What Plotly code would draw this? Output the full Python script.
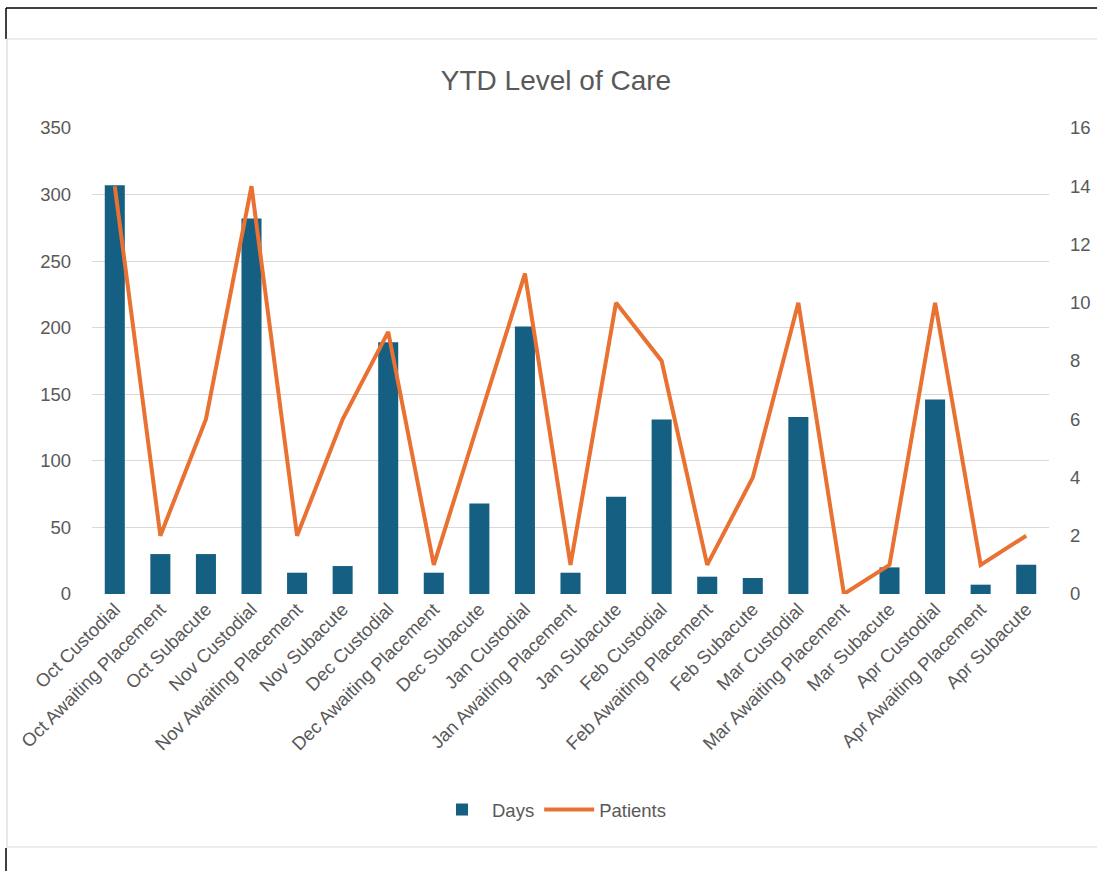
import plotly.graph_objects as go

categories = [
    "Oct Custodial", "Oct Awaiting Placement", "Oct Subacute",
    "Nov Custodial", "Nov Awaiting Placement", "Nov Subacute",
    "Dec Custodial", "Dec Awaiting Placement", "Dec Subacute",
    "Jan Custodial", "Jan Awaiting Placement", "Jan Subacute",
    "Feb Custodial", "Feb Awaiting Placement", "Feb Subacute",
    "Mar Custodial", "Mar Awaiting Placement", "Mar Subacute",
    "Apr Custodial", "Apr Awaiting Placement", "Apr Subacute",
]
days = [307, 30, 30, 282, 16, 21, 189, 16, 68, 201, 16, 73, 131, 13, 12, 133, 0, 20, 146, 7, 22]
patients = [14, 2, 6, 14, 2, 6, 9, 1, 6, 11, 1, 10, 8, 1, 4, 10, 0, 1, 10, 1, 2]

left_ticks = [0, 50, 100, 150, 200, 250, 300, 350]
right_ticks = [0, 2, 4, 6, 8, 10, 12, 14, 16]

W, H = 1097, 871
L, R, T, B = 92, 1049, 128, 594

def px(x):
    return (x - L) / (R - L)

def py(y):
    return (B - y) / (B - T)

FONT = "Liberation Sans"
GREY = "#595959"
TS = 18.5

fig = go.Figure()
fig.add_trace(go.Bar(x=categories, y=days, name="Days", marker=dict(color="#156082", line=dict(width=0)), yaxis="y"))
fig.add_trace(go.Scatter(x=categories, y=patients, name="Patients", mode="lines",
                         line=dict(color="#E97132", width=4), yaxis="y2"))

shapes = []
# outer frame lines (screenshot borders)
shapes.append(dict(type="line", xref="paper", yref="paper", x0=px(6), x1=px(1097), y0=py(8), y1=py(8), line=dict(color="#000000", width=1.5)))
shapes.append(dict(type="line", xref="paper", yref="paper", x0=px(6), x1=px(6), y0=py(8), y1=py(39), line=dict(color="#000000", width=1.5)))
shapes.append(dict(type="line", xref="paper", yref="paper", x0=px(6), x1=px(6), y0=py(848), y1=py(871), line=dict(color="#000000", width=1.5)))
# chart area border
shapes.append(dict(type="rect", xref="paper", yref="paper", x0=px(7), x1=px(1100), y0=py(39), y1=py(847), line=dict(color="#d9d9d9", width=1.2)))

fig.update_layout(
    width=W, height=H,
    margin=dict(l=L, r=W - R, t=T, b=H - B),
    paper_bgcolor="white", plot_bgcolor="white",
    font=dict(family=FONT, color=GREY, size=TS),
    title=dict(text="YTD Level of Care", x=556 / W, xref="container", xanchor="center",
               y=1 - 80 / H, yref="container", yanchor="middle",
               font=dict(family=FONT, size=28, color=GREY)),
    bargap=0.56,
    xaxis=dict(type="category", tickangle=-45, tickfont=dict(size=TS, color=GREY),
               showgrid=False, showline=False, ticks="", automargin=False),
    yaxis=dict(range=[0, 350], tickvals=left_ticks, showgrid=True, gridcolor="#d9d9d9", gridwidth=1.3,
               zeroline=False, showline=False, ticks="", tickfont=dict(size=TS, color=GREY),
               ticklabelstandoff=20, automargin=False),
    yaxis2=dict(range=[0, 16], tickvals=right_ticks, overlaying="y", side="right", showgrid=False,
                zeroline=False, showline=False, ticks="", tickfont=dict(size=TS, color=GREY),
                ticklabelstandoff=20, automargin=False),
    legend=dict(orientation="h", x=px(552), xanchor="center", y=py(810), yanchor="middle",
                font=dict(size=TS, color=GREY), bgcolor="rgba(0,0,0,0)", itemwidth=50),
    shapes=shapes,
)

fig.write_html("out.html")
